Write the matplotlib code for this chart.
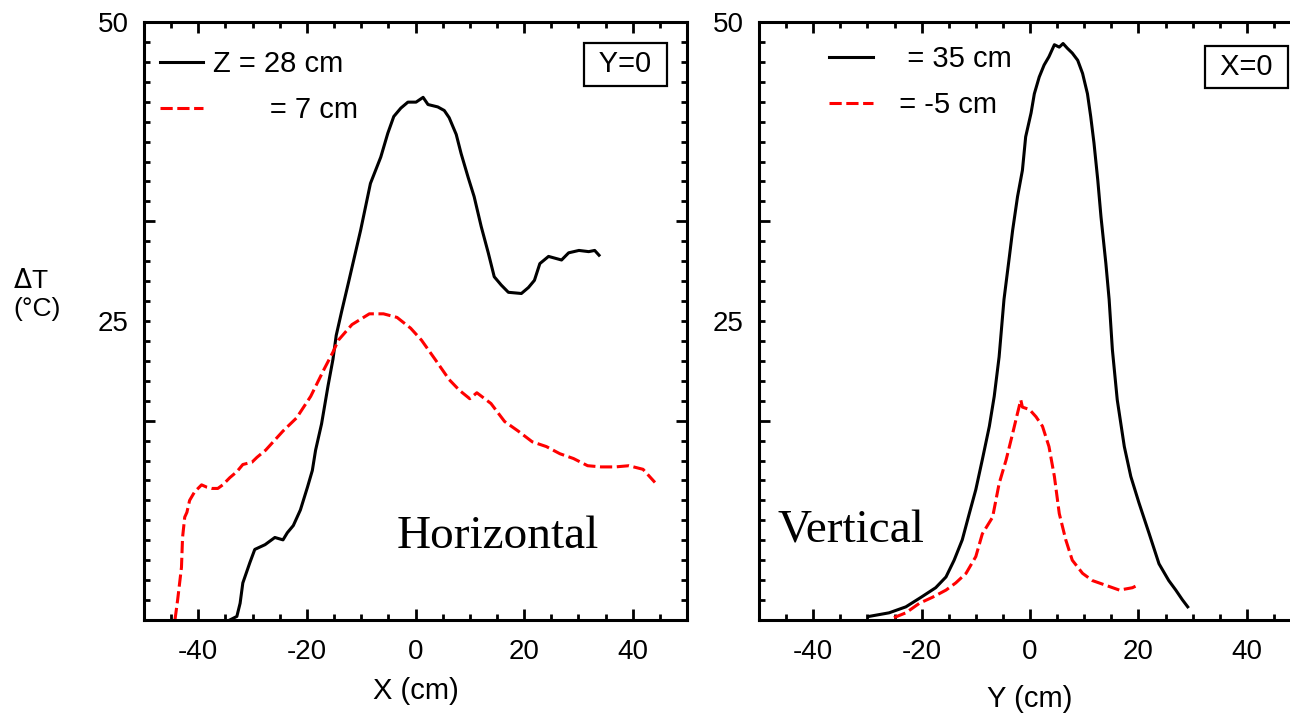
import matplotlib
matplotlib.use('Agg')
import matplotlib.pyplot as plt
import numpy as np

plt.rcParams['font.family'] = ['Liberation Sans', 'DejaVu Sans']
plt.rcParams['axes.unicode_minus'] = False

# horizontal scan (Y=0)
x_h_z28 = [-34.2, -32.9, -32.3, -31.8, -30.5, -29.6, -27.7, -25.9, -24.4, -23.6, -22.5, -21.2,
           -19.9, -19.0, -18.4, -17.3, -16.1, -15.2, -14.6, -13.6, -12.3, -10.1, -8.3, -6.4,
           -5.1, -4.0, -2.7, -1.4, 0.1, 1.4, 2.3, 4.1, 5.3, 6.2, 7.5, 8.4, 9.7, 10.8, 12.1,
           13.4, 14.5, 15.8, 17.1, 19.5, 20.8, 21.9, 22.9, 24.5, 26.9, 28.2, 30.1, 31.9, 33.0, 33.8]
t_h_z28 = [0, 0.3, 1.4, 3.1, 4.8, 5.9, 6.3, 6.9, 6.7, 7.3, 7.9, 9.2,
           11.1, 12.5, 14.2, 16.4, 19.6, 21.8, 23.8, 25.8, 28.3, 32.6, 36.5, 38.7,
           40.7, 42.1, 42.8, 43.3, 43.3, 43.7, 43.1, 42.9, 42.6, 42.0, 40.6, 39.0, 37.0, 35.4, 32.9,
           30.7, 28.7, 28.0, 27.4, 27.3, 27.8, 28.4, 29.8, 30.4, 30.1, 30.7, 30.9, 30.8, 30.9, 30.5]

x_h_z7 = [-44.3, -43.8, -43.1, -42.9, -42.5, -42.1, -41.6, -40.7, -39.4, -38.4, -37.5, -36.4,
          -35.5, -34.2, -32.9, -31.8, -30.1, -29.2, -27.6, -24.4, -21.9, -19.3, -16.8, -15.2,
          -14.2, -11.7, -8.5, -5.9, -3.4, -0.9, 1.1, 3.6, 6.2, 8.1, 10.0, 11.3, 13.9, 16.4,
          18.9, 21.5, 24.1, 26.6, 29.1, 31.7, 34.2, 36.8, 39.3, 41.9, 44.1]
t_h_z7 = [0, 1.7, 4.4, 6.9, 8.6, 9.0, 10.0, 10.7, 11.3, 11.1, 11.0, 11.0,
          11.3, 11.9, 12.4, 13.0, 13.2, 13.6, 14.2, 15.8, 16.9, 18.7, 21.0, 22.4,
          23.4, 24.7, 25.6, 25.6, 25.3, 24.4, 23.4, 21.8, 20.1, 19.2, 18.5, 19.0, 18.1, 16.6,
          15.8, 14.9, 14.5, 13.9, 13.5, 12.9, 12.8, 12.8, 12.9, 12.6, 11.5]

# vertical scan (X=0)
y_v_z35 = [-29.7, -26.0, -22.9, -20.1, -17.4, -15.5, -14.0, -12.5, -11.2, -10.0, -8.8, -7.5,
           -6.6, -5.7, -4.8, -3.8, -3.2, -2.3, -1.4, -0.8, 0.2, 0.8, 1.7, 2.6, 3.5, 4.5, 5.4,
           6.1, 6.9, 7.8, 8.8, 9.7, 10.6, 11.2, 11.8, 12.5, 13.1, 14.0, 14.6, 15.2, 16.1, 17.4,
           18.6, 20.1, 22.0, 23.8, 25.6, 26.9, 28.1, 29.1]
t_v_z35 = [0.3, 0.6, 1.1, 1.9, 2.7, 3.6, 5.0, 6.7, 8.9, 10.9, 13.4, 16.2,
           18.7, 22.0, 26.8, 30.4, 32.6, 35.4, 37.6, 40.4, 42.4, 44.0, 45.4, 46.4, 47.1, 48.1, 47.9,
           48.2, 47.8, 47.4, 46.8, 45.7, 44.0, 42.1, 39.9, 36.8, 33.7, 29.8, 26.8, 22.6, 18.4, 14.5,
           12.0, 9.8, 7.2, 4.7, 3.3, 2.5, 1.7, 1.1]

y_v_zm5 = [-25.1, -22.9, -20.4, -18.0, -15.5, -13.7, -11.8, -10.0, -8.8, -6.9, -5.7, -4.4,
           -3.2, -2.3, -1.7, -1.4, -0.1, 1.1, 2.3, 3.5, 4.5, 5.4, 6.6, 7.8, 9.7, 11.5, 14.0,
           16.5, 18.9, 19.8]
t_v_zm5 = [0.2, 0.6, 1.4, 1.9, 2.5, 3.1, 3.9, 5.3, 7.2, 8.6, 11.4, 13.4,
           15.6, 17.3, 18.4, 17.8, 17.6, 17.0, 16.2, 14.5, 12.0, 8.9, 6.7, 5.0, 3.9, 3.3, 2.9,
           2.5, 2.7, 2.9]

x_ticks = [-40, -20, 0, 20, 40]


def style_axes(ax, xlabel, xlabel_y):
    ax.set_xlim(-50, 50)
    ax.set_ylim(0, 50)
    ax.set_xticks(x_ticks)
    ax.set_xticks(np.arange(-50, 51, 5), minor=True)
    ax.set_yticks([0, 50 / 3, 100 / 3, 50], labels=['', '', '', '50'])
    minor = [k * 50 / 30 for k in range(31)]
    ax.set_yticks(minor, labels=['25' if k == 15 else '' for k in range(31)], minor=True)
    ax.tick_params(which='both', direction='in', top=True, right=True, width=2,
                   labelsize=20)
    ax.tick_params(which='major', length=8)
    ax.tick_params(which='minor', length=4.5)
    ax.tick_params(axis='x', which='both', pad=14)
    ax.tick_params(axis='y', which='both', pad=11)
    for s in ax.spines.values():
        s.set_linewidth(2.2)
    ax.set_xlabel(xlabel, fontsize=21)
    ax.xaxis.set_label_coords(0.5, xlabel_y)


fig = plt.figure(figsize=(12.9, 7.15), dpi=100)
ax1 = fig.add_axes([144 / 1290, 95 / 715, 543 / 1290, 598 / 715])
ax2 = fig.add_axes([759 / 1290, 95 / 715, 542 / 1290, 598 / 715])

ax1.plot(x_h_z28, t_h_z28, color='k', lw=2.2, label='Z = 28 cm')
ax1.plot(x_h_z7, t_h_z7, color='red', lw=2.2, dashes=(4, 1.5), label='       = 7 cm')
style_axes(ax1, 'X (cm)', -0.095)
ax1.legend(loc='upper left', bbox_to_anchor=(0.029, 0.953), frameon=False, fontsize=21,
           borderpad=0, borderaxespad=0, handlelength=1.5, handletextpad=0.34,
           labelspacing=0.62)
ax1.text(0.886, 0.929, ' Y=0 ', transform=ax1.transAxes, ha='center', va='center',
         fontsize=21, bbox=dict(boxstyle='square,pad=0.25', fc='white', ec='k', lw=1.6))
ax1.text(0.466, 0.12, 'Horizontal', transform=ax1.transAxes, fontsize=34,
         family='Liberation Serif', va='baseline')

ax2.plot(y_v_z35, t_v_z35, color='k', lw=2.2, label='   = 35 cm')
ax2.plot(y_v_zm5, t_v_zm5, color='red', lw=2.2, dashes=(4, 1.5), label='  = -5 cm')
style_axes(ax2, 'Y (cm)', -0.108)
ax2.legend(loc='upper left', bbox_to_anchor=(0.129, 0.962), frameon=False, fontsize=21,
           borderpad=0, borderaxespad=0, handlelength=1.5, handletextpad=0.34,
           labelspacing=0.62)
ax2.text(0.899, 0.925, ' X=0 ', transform=ax2.transAxes, ha='center', va='center',
         fontsize=21, bbox=dict(boxstyle='square,pad=0.25', fc='white', ec='k', lw=1.6))
ax2.text(0.035, 0.129, 'Vertical', transform=ax2.transAxes, fontsize=34,
         family='Liberation Serif', va='baseline')

fig.text(13 / 1290, 1 - 295 / 715, '$\\Delta$T\n(°C)', fontsize=19, ha='left', va='center',
         linespacing=1.25)

fig.savefig('out.png', dpi=100)
